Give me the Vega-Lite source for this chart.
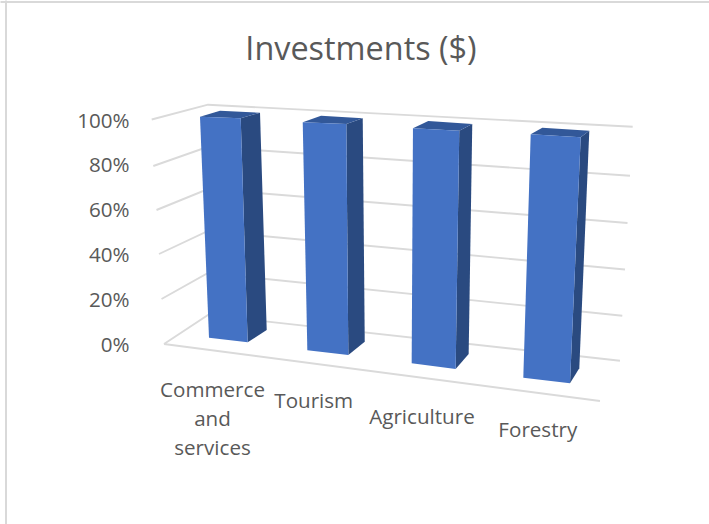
{
"$schema":"https://vega.github.io/schema/vega-lite/v6.json",
"width":709,"height":524,"padding":0,"autosize":"none","background":"white",
"config":{"view":{"stroke":null},"font":"Open Sans"},
"title":{"text":"Investments ($)","anchor":"middle","frame":"group","offset":-95,"baseline":"alphabetic","dx":6.5,"fontSize":32.4,"fontWeight":"normal","color":"#595959","font":"Open Sans"},
"datasets":{
"bars":[{"category":"Commerce and services","value":100},{"category":"Tourism","value":100},{"category":"Agriculture","value":100},{"category":"Forestry","value":100}],
"ticks":[{"tick":0},{"tick":20},{"tick":40},{"tick":60},{"tick":80},{"tick":100}],
"frame":[{"f":0},{"f":1}]
},
"resolve":{"scale":{"x":"independent","y":"independent","shape":"independent"},"axis":{"x":"independent","y":"independent"}},
"layer":[
{"data":{"name":"frame"},"mark":{"type":"point","opacity":0},
"encoding":{
"x":{"field":"f","type":"quantitative","scale":{"domain":[0,1],"range":[0,709]},"axis":{"orient":"top","offset":-1.5,"domainColor":"#d9d9d9","domainWidth":2,"ticks":false,"labels":false,"grid":false,"title":null}},
"y":{"field":"f","type":"quantitative","scale":{"domain":[0,1],"range":[524,0]},"axis":{"orient":"left","offset":-5.5,"domainColor":"#d9d9d9","domainWidth":2,"ticks":false,"labels":false,"grid":false,"title":null}}}},
{"data":{"name":"ticks"},"mark":{"type":"point","filled":false,"opacity":1,"size":4,"stroke":"#dadada","strokeWidth":1.9},
"encoding":{
"x":{"datum":"Commerce and services","type":"nominal","scale":{"type":"point","domain":["Commerce and services","Tourism","Agriculture","Forestry"],"range":[212.5,537.8],"padding":0},"axis":null},
"y":{"field":"tick","type":"quantitative","scale":{"domain":[0,100],"range":[344,119.5]},
"axis":{"orient":"left","offset":-129,"values":[0,20,40,60,80,100],"labelExpr":"datum.value+'%'","domain":false,"ticks":false,"grid":false,"title":null,"labelPadding":0,"labelOffset":1.5,"labelFontSize":20.6,"labelColor":"#595959","labelFont":"Open Sans"}},
"shape":{"field":"tick","type":"nominal","legend":null,"scale":{"domain":[0,20,40,60,80,100],"range":[
"M-48.5 0L-4.5 -29L407.5 16.7M-48.5 0L387.5 57",
"M-51 -0.1L-4.5 -26.1L409.8 16.6",
"M-53.5 -0.2L-4.5 -23.2L412.5 15.3",
"M-56 0.7L-4.5 -20.3L415 13.7",
"M-59.2 1.6L-4.5 -17.6L417.5 11.3",
"M-60.8 0L-4.5 -14.8L420.2 7.2"]}}}},
{"data":{"name":"bars"},"mark":{"type":"point","filled":true,"opacity":1,"size":4,"fill":"#2a4a80","stroke":null},
"encoding":{
"x":{"field":"category","type":"nominal","sort":null,"scale":{"type":"point","domain":["Commerce and services","Tourism","Agriculture","Forestry"],"range":[212.5,537.8],"padding":0},"axis":null},
"y":{"field":"value","type":"quantitative","scale":{"domain":[0,100],"range":[344,119.5]},"axis":null},
"shape":{"field":"category","type":"nominal","legend":null,"scale":{"domain":["Commerce and services","Tourism","Agriculture","Forestry"],"range":[
"M28.2 -1.2L47.5 -6.8L54.2 210.5L35.2 222.8Z",
"M25.4 4.5L41.8 -1.2L43.8 222.2L27.4 235.5Z",
"M29.9 11.2L42.9 4.5L39.3 234.5L26.3 249.5Z",
"M42.9 17.8L51.5 11.2L41.5 248.8L32.2 263.8Z"]}}}},
{"data":{"name":"bars"},"mark":{"type":"point","filled":true,"opacity":1,"size":4,"fill":"#325899","stroke":null},
"encoding":{
"x":{"field":"category","type":"nominal","sort":null,"scale":{"type":"point","domain":["Commerce and services","Tourism","Agriculture","Forestry"],"range":[212.5,537.8],"padding":0},"axis":null},
"y":{"field":"value","type":"quantitative","scale":{"domain":[0,100],"range":[344,119.5]},"axis":null},
"shape":{"field":"category","type":"nominal","legend":null,"scale":{"domain":["Commerce and services","Tourism","Agriculture","Forestry"],"range":[
"M-12.5 -2.8L7.5 -8.8L47.5 -6.8L28.2 -1.2Z",
"M-18.2 2.8L0.1 -3.8L41.8 -1.2L25.4 4.5Z",
"M-16.4 8.8L-1.1 1.5L42.9 4.5L29.9 11.2Z",
"M-7.1 14.8L4.5 8.2L51.5 11.2L42.9 17.8Z"]}}}},
{"data":{"name":"bars"},"mark":{"type":"point","filled":true,"opacity":1,"size":4,"fill":"#4472c4","stroke":null},
"encoding":{
"x":{"field":"category","type":"nominal","sort":null,"scale":{"type":"point","domain":["Commerce and services","Tourism","Agriculture","Forestry"],"range":[212.5,537.8],"padding":0},"axis":null},
"y":{"field":"value","type":"quantitative","scale":{"domain":[0,100],"range":[344,119.5]},"axis":null},
"shape":{"field":"category","type":"nominal","legend":null,"scale":{"domain":["Commerce and services","Tourism","Agriculture","Forestry"],"range":[
"M-12.5 -2.8L28.2 -1.2L35.2 222.8L-3.5 218.2Z",
"M-18.2 2.8L25.4 4.5L27.4 235.5L-13.6 230.8Z",
"M-16.4 8.8L29.9 11.2L26.3 249.5L-17.7 243.8Z",
"M-7.1 14.8L42.9 17.8L32.2 263.8L-14.5 258.2Z"]}}}},
{"data":{"name":"bars"},"mark":{"type":"text","align":"center","baseline":"alphabetic","fontSize":20.6,"color":"#595959","font":"Open Sans","lineBreak":" ","lineHeight":29.3,
"dx":{"expr":"datum.category==='Tourism'?-7.2:datum.category==='Agriculture'?-7.4:0"},
"dy":{"expr":"datum.category==='Tourism'?-2.3:datum.category==='Agriculture'?0.7:0"}},
"encoding":{
"x":{"field":"category","type":"nominal","sort":null,"scale":{"type":"point","domain":["Commerce and services","Tourism","Agriculture","Forestry"],"range":[212.5,537.8],"padding":0},"axis":null},
"y":{"field":"category","type":"nominal","sort":null,"scale":{"type":"point","domain":["Commerce and services","Tourism","Agriculture","Forestry"],"range":[396.7,437.3],"padding":0},"axis":null},
"text":{"field":"category","type":"nominal"}}}
]
}
